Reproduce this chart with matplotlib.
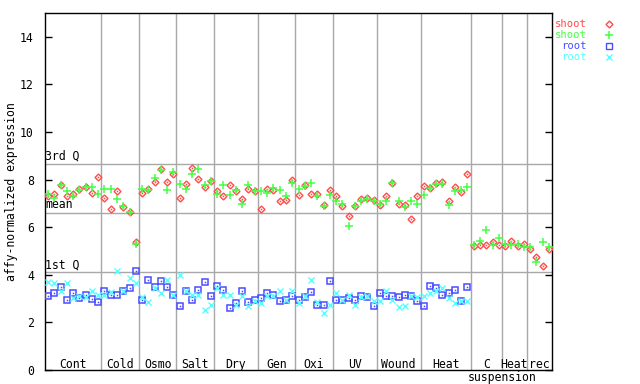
import matplotlib
matplotlib.use("Agg")
import matplotlib.pyplot as plt
import numpy as np

groups = ["Cont", "Cold", "Osmo", "Salt", "Dry", "Gen", "Oxi", "UV", "Wound", "Heat", "C", "Heat", "rec"]
group_sizes = [9, 6, 6, 6, 7, 6, 6, 7, 7, 8, 5, 4, 4]

shoot_red = [7.29, 7.41, 7.76, 7.29, 7.38, 7.59, 7.69, 7.45, 8.13,
             7.22, 6.78, 7.51, 6.85, 6.62, 5.36,
             7.45, 7.62, 7.90, 8.45, 7.92, 8.22,
             7.24, 7.83, 8.50, 8.01, 7.69, 7.93,
             7.51, 7.29, 7.79, 7.51, 7.20, 7.62, 7.51,
             6.78, 7.59, 7.55, 7.12, 7.16, 7.97,
             7.37, 7.79, 7.41, 7.41, 6.95, 7.55,
             7.29, 6.90, 6.45, 6.87, 7.20, 7.24, 7.16,
             6.95, 7.29, 7.87, 6.99, 6.95, 6.36, 7.33,
             7.75, 7.66, 7.87, 7.92, 7.08, 7.71, 7.50, 8.25,
             5.19, 5.27, 5.27, 5.36, 5.24,
             5.19, 5.44, 5.23, 5.31,
             5.10, 4.73, 4.39, 5.10]
shoot_green = [7.41, 7.24, 7.76, 7.51, 7.33, 7.57, 7.68, 7.68, 7.41,
               7.59, 7.59, 7.17, 6.87, 6.62, 5.31,
               7.62, 7.58, 8.08, 8.42, 7.55, 8.30,
               7.80, 7.59, 8.22, 8.46, 7.79, 7.93,
               7.41, 7.79, 7.37, 7.55, 6.99, 7.76, 7.51,
               7.51, 7.45, 7.66, 7.55, 7.29, 7.86,
               7.59, 7.73, 7.87, 7.33, 6.87, 7.37,
               7.08, 6.99, 6.03, 6.87, 7.12, 7.20, 7.12,
               6.99, 7.12, 7.87, 7.08, 6.83, 7.12, 6.99,
               7.37, 7.66, 7.83, 7.83, 6.95, 7.54, 7.58, 7.71,
               5.27, 5.44, 5.90, 5.27, 5.54,
               5.31, 5.24, 5.31, 5.15,
               5.15, 4.55, 5.36, 5.15]
root_blue = [3.09, 3.22, 3.48, 2.95, 3.22, 3.01, 3.17, 2.98, 2.85,
             3.34, 3.17, 3.17, 3.30, 3.43, 4.14,
             2.95, 3.80, 3.47, 3.76, 3.47, 3.17,
             2.71, 3.30, 2.95, 3.38, 3.69, 3.13,
             3.51, 3.38, 2.59, 2.80, 3.34, 2.84, 2.96,
             3.01, 3.22, 3.17, 2.88, 2.96, 3.09,
             2.95, 3.05, 3.26, 2.75, 2.75, 3.72,
             2.96, 2.96, 3.01, 2.96, 3.09, 3.05, 2.67,
             3.22, 3.13, 3.09, 3.05, 3.17, 3.09, 2.92,
             2.71, 3.55, 3.43, 3.17, 3.22, 3.38, 2.92, 3.47]
root_cyan = [3.69, 3.64, 3.30, 3.64, 3.01, 3.09, 3.05, 3.30, 3.17,
             3.17, 3.26, 4.18, 3.30, 3.85, 3.64,
             3.05, 2.84, 3.43, 3.22, 3.80, 3.17,
             4.01, 3.30, 3.17, 3.17, 2.54, 2.75,
             3.43, 3.17, 3.17, 2.75, 3.09, 2.67, 2.92,
             2.80, 3.09, 3.13, 3.34, 2.96, 3.34,
             2.80, 3.09, 3.80, 2.84, 2.38, 2.75,
             3.22, 2.96, 3.17, 2.75, 3.05, 3.13, 2.92,
             2.92, 3.34, 2.96, 2.63, 2.67, 3.09, 3.05,
             3.13, 3.22, 3.30, 3.43, 3.01, 2.80, 2.92, 2.92]
quartiles = {"3rd Q": 8.67, "mean": 6.61, "1st Q": 4.10}

RED = "#ff4c4c"
GREEN = "#44ff44"
BLUE = "#4c4cff"
CYAN = "#55ffff"
GRID = "#a8a8a8"
MONO = "DejaVu Sans Mono"
FS = 8.3
LFS = 7.6

fig = plt.figure(figsize=(6.4, 3.84), dpi=100)
ax = fig.add_axes([45/640, 1-370/384, 507/640, 357/384])
n = len(shoot_red)
ax.set_xlim(-0.5, n - 0.5)
ax.set_ylim(0, 15)

# group separators
bounds = np.cumsum(group_sizes)
for b in bounds[:-1]:
    ax.axvline(b - 0.5, color=GRID, lw=1.0, zorder=1)
for lab, v in quartiles.items():
    ax.axhline(v, color=GRID, lw=1.0, zorder=1)
    ax.text(-0.5, v + 0.05, lab, family=MONO, fontsize=FS, ha="left", va="bottom", zorder=3)

starts = np.concatenate([[0], bounds[:-1]])
for g, s, sz in zip(groups, starts, group_sizes):
    cx = s + (sz - 1) / 2
    ax.text(cx, 0.22, g, family=MONO, fontsize=FS, ha="center", va="center", zorder=3)
ax.text(72.5, -0.3, "suspension", family=MONO, fontsize=FS, ha="center", va="center", clip_on=False)

xs = np.arange(n)
xr = np.arange(len(root_blue))
ax.plot(xs, shoot_red, ls="none", marker="D", ms=3.5, mfc="none", mec=RED, mew=1.0, zorder=4)
ax.plot(xs, shoot_red, ls="none", marker="s", ms=1.1, mfc=RED, mec=RED, mew=0, zorder=4)
ax.plot(xs, shoot_green, ls="none", marker="+", ms=6.0, mec=GREEN, mew=1.1, zorder=5)
ax.plot(xr, root_blue, ls="none", marker="s", ms=4.4, mfc="none", mec=BLUE, mew=1.1, zorder=4)
ax.plot(xr, root_blue, ls="none", marker="s", ms=1.1, mfc=BLUE, mec=BLUE, mew=0, zorder=4)
ax.plot(xr, root_cyan, ls="none", marker="x", ms=4.4, mec=CYAN, mew=1.0, zorder=5)

ax.set_yticks(range(0, 15, 2))
ax.set_xticks([])
ax.tick_params(axis="y", direction="in", length=5, width=1, right=True, left=True,
               labelsize=FS, pad=8)
for t in ax.get_yticklabels():
    t.set_family(MONO)
for sp in ax.spines.values():
    sp.set_linewidth(1.0)
ax.set_ylabel("affy-normalized expression", family=MONO, fontsize=FS)
ax.yaxis.set_label_coords(-0.054, 0.5)

# legend
leg = [("shoot", RED, "D"), ("shoot", GREEN, "+"), ("root", BLUE, "s"), ("root", CYAN, "x")]
rows = [24, 35, 46, 57]
for (lab, col, mk), ry in zip(leg, rows):
    fy = 1 - ry / 384
    fig.text(587/640, fy, lab, color=col, family=MONO, fontsize=LFS, ha="right", va="center")
    kw = dict(mfc="none", mec=col, mew=1.0)
    if mk == "D":
        kw.update(ms=3.5)
    elif mk == "+":
        kw.update(ms=6.0, mew=1.1)
    elif mk == "s":
        kw.update(ms=4.4)
    else:
        kw.update(ms=4.4)
    fig.lines.append(matplotlib.lines.Line2D([609/640], [fy], transform=fig.transFigure,
                                             ls="none", marker=mk, **kw))

fig.savefig("out.png", dpi=100)
